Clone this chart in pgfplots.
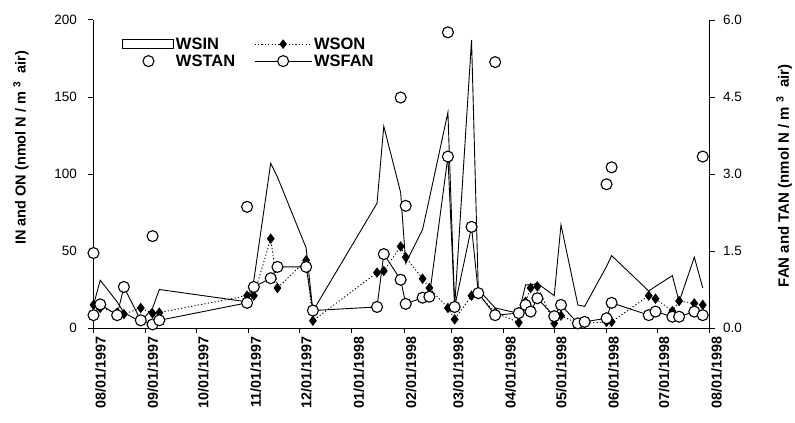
\documentclass[border=0pt]{standalone}
\usepackage{pgfplots}
\pgfplotsset{compat=1.18}
\usepackage{pgfplotstable}
\usepackage{fontspec}
\setmainfont{Liberation Sans}

% day since 08/01/1997, WSIN, WSON (left axis), WSFAN (right axis)
\pgfplotstableread{
day in on fan
0   15  15  0.25
4   31  13  0.46
14  17  10  0.25
18  10  9   0.80
28  4   13  0.15
35  13  9.5 0.07
39  25  10  0.15
91  17  21  0.49
95  31  21  0.80
105 107 58  0.97
109 98  26  1.19
126 52  44  1.19
130 11  4.7 0.34
168 81  36  0.41
172 131 37  1.44
182 88  53  0.94
185 42  46  0.47
195 64  32  0.59
199 84  26  0.61
210 140 13  3.34
214 14  5.6 0.41
224 187 21  1.97
228 25  22  0.68
238 13  10  0.25
252 9.5 3.5 0.29
256 28  17  0.45
259 28  26  0.32
263 29  27  0.58
273 21  3   0.23
277 67  8   0.45
287 15  3   0.09
291 14  3   0.12
304 40  4   0.19
307 47  4   0.49
329 24  21  0.25
333 27  19  0.32
343 34  11  0.22
347 17  17.5 0.22
356 46  16  0.32
361 26  15  0.25
}\datatable

% WSTAN (right axis)
\pgfplotstableread{
day tan
0   1.46
35  1.79
91  2.36
182 4.49
185 2.38
210 5.76
238 5.18
304 2.80
307 3.13
361 3.34
}\tantable

\newcommand{\tickfont}{\fontsize{13.5bp}{16bp}\selectfont}
\newcommand{\xtickfont}{\fontsize{14.3bp}{16bp}\selectfont\bfseries}
\newcommand{\labfontL}{\fontsize{14.5bp}{16bp}\selectfont\bfseries}
\newcommand{\labfontR}{\fontsize{15bp}{16bp}\selectfont\bfseries}

\begin{document}
\begin{tikzpicture}
\useasboundingbox (-93.5bp,-95bp) rectangle (701.5bp,328bp);
\begin{axis}[
  at={(0,0)}, anchor=south west, scale only axis,
  width=616bp, height=308bp,
  xmin=0, xmax=365, ymin=0, ymax=200,
  axis x line*=bottom, axis y line*=left,
  axis line style={line width=1bp},
  xtick={0,31,61,92,122,153,184,212,243,273,304,334,365},
  xticklabels={08/01/1997,09/01/1997,10/01/1997,11/01/1997,12/01/1997,01/01/1998,02/01/1998,03/01/1998,04/01/1998,05/01/1998,06/01/1998,07/01/1998,08/01/1998},
  xticklabel style={rotate=90, anchor=east, font=\xtickfont, yshift=-7bp},
  ytick={0,50,100,150,200},
  yticklabel style={font=\tickfont, xshift=-8bp},
  /pgf/number format/assume math mode=true,
  tick align=outside, major tick length=5bp,
  tick style={line width=1bp, black},
  ylabel={IN and ON (nmol N / m \textsuperscript{3}\ \ air)},
  ylabel style={font=\labfontL, at={(axis description cs:-0.1177,0.585)}, anchor=center},
  clip=false,
]
\addplot[black, line width=0.9bp, mark=none] table[x=day, y=in] {\datatable};
\addplot[black, line width=0.9bp, dash pattern=on 1.2bp off 2.2bp, mark=diamond*, mark size=4.5bp, mark options={solid, fill=black}] table[x=day, y=on] {\datatable};
\end{axis}
\begin{axis}[
  at={(0,0)}, anchor=south west, scale only axis,
  width=616bp, height=308bp,
  xmin=0, xmax=365, ymin=0, ymax=6,
  axis y line*=right, axis x line=none,
  axis line style={line width=1bp},
  ytick={0,1.5,3,4.5,6},
  yticklabel style={font=\tickfont, xshift=5bp, /pgf/number format/.cd, fixed, fixed zerofill, precision=1},
  /pgf/number format/assume math mode=true,
  tick align=outside, major tick length=5bp,
  tick style={line width=1bp, black},
  ylabel={FAN and TAN (nmol N / m \textsuperscript{3}\ \ air)},
  ylabel style={font=\labfontR, at={(axis description cs:1.121,0.494)}, anchor=center},
  clip=false,
  legend columns=2,
  legend cell align=left,
  legend style={at={(axis description cs:0.046,0.95)}, anchor=north west, draw=none, fill=none,
    font=\fontsize{16.5bp}{16.5bp}\selectfont\bfseries, inner sep=0pt, row sep=0bp,
    /tikz/every even column/.append style={column sep=17bp}},
]
\addlegendimage{legend image code/.code={\draw[black, line width=0.9bp] (0bp,-4.5bp) rectangle (51bp,4.5bp);}}
\addlegendentry{WSIN}
\addlegendimage{legend image code/.code={\draw[black, line width=0.9bp, dash pattern=on 1.2bp off 2.2bp] (0bp,0bp) -- (57bp,0bp); \fill[black] (28.5bp,4.5bp) -- (31.9bp,0bp) -- (28.5bp,-4.5bp) -- (25.1bp,0bp) -- cycle;}}
\addlegendentry{WSON}
\addplot[only marks, mark=*, mark size=5.5bp, mark options={fill=white, draw=black, line width=1.1bp},
  legend image code/.code={\path[draw=none, fill=none] (0bp,0bp) -- (51bp,0bp); \draw[black, fill=white, line width=1.1bp] (26bp,0bp) circle[radius=5.5bp];}]
  table[x=day, y=tan] {\tantable};
\addlegendentry{WSTAN}
\addplot[black, line width=0.9bp, mark=*, mark size=5.5bp, mark options={fill=white, draw=black, line width=1.1bp},
  legend image code/.code={\draw[black, line width=0.9bp] (0bp,0bp) -- (57bp,0bp); \draw[black, fill=white, line width=1.1bp] (28.5bp,0bp) circle[radius=5.5bp];}]
  table[x=day, y=fan] {\datatable};
\addlegendentry{WSFAN}
\end{axis}
\end{tikzpicture}
\end{document}
